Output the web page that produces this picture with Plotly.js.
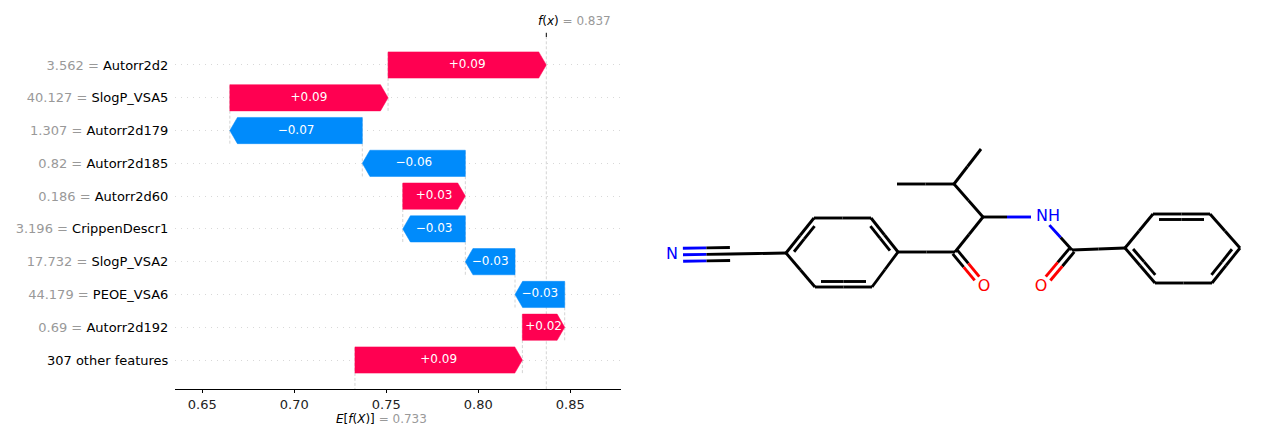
<!DOCTYPE html>
<html>
<head>
<meta charset="utf-8">
<script src="https://cdn.plot.ly/plotly-3.0.1.min.js"></script>
<style>
  html, body { margin: 0; padding: 0; background: #fff; }
  #chart { width: 1270px; height: 441px; }
</style>
</head>
<body>
<div id="chart"></div>
<script>
// waterfall rows, listed top to bottom
var features = ['Autorr2d2', 'SlogP_VSA5', 'Autorr2d179', 'Autorr2d185', 'Autorr2d60',
                'CrippenDescr1', 'SlogP_VSA2', 'PEOE_VSA6', 'Autorr2d192', '307 other features'];
var featureValues = ['3.562', '40.127', '1.307', '0.82', '0.186', '3.196', '17.732', '44.179', '0.69', ''];
var shapValues = [0.086, 0.086, -0.072, -0.056, 0.034, -0.034, -0.027, -0.027, 0.023, 0.091];
var baseValue = 0.733;
var xTicks = [0.65, 0.70, 0.75, 0.80, 0.85];
var xTickLabels = ['0.65', '0.70', '0.75', '0.80', '0.85'];

// molecule: atom positions in image pixels, bonds as [from, to, order]
var atomSymbols = ['N', 'C', 'C', 'C', 'C', 'C', 'C', 'C', 'C', 'O', 'C', 'C',
                   'C', 'C', 'N', 'C', 'O', 'C', 'C', 'C', 'C', 'C', 'C'];
var atomLabels  = ['N', '', '', '', '', '', '', '', '', 'O', '', '',
                   '', '', 'NH', '', 'O', '', '', '', '', '', ''];
var atomX = [672, 730, 786, 814, 871, 898, 872, 815, 955, 984, 983, 954,
             897, 981, 1042, 1072, 1041, 1125, 1153, 1210, 1240, 1212, 1155];
var atomY = [255, 254, 253, 218, 218, 252, 287, 287, 252, 287, 217, 184,
             184, 149, 217, 250, 287, 248, 214, 214, 248, 283, 283];
var bonds = [[0, 1, 3], [1, 2, 1],
             [2, 3, 2], [3, 4, 1], [4, 5, 2], [5, 6, 1], [6, 7, 2], [7, 2, 1],
             [5, 8, 1], [8, 9, 2], [8, 10, 1], [10, 11, 1], [11, 12, 1], [11, 13, 1],
             [10, 14, 1], [14, 15, 1], [15, 16, 2], [15, 17, 1],
             [17, 18, 1], [18, 19, 2], [19, 20, 1], [20, 21, 2], [21, 22, 1], [22, 17, 2]];
var rings = [[2, 3, 4, 5, 6, 7], [17, 18, 19, 20, 21, 22]];

var RED = '#ff0051', BLUE = '#008bfb';
var FONT = 'DejaVu Sans, Verdana, sans-serif';
var xRange = [0.6352, 0.8776];
var yRange = [-0.894, 9.854];

// ---- waterfall geometry ----
var n = features.length;
var rows = [], starts = [], ends = [];
var cum = baseValue;
for (var i = n - 1; i >= 0; i--) {
  rows[i] = n - 1 - i;
  starts[i] = cum;
  ends[i] = cum + shapValues[i];
  cum = ends[i];
}
var fx = cum;

var traces = [];

// dashed connectors between bars
var cx = [], cy = [];
for (var i = 0; i < n; i++) {
  cx.push(starts[i], starts[i], null);
  cy.push(rows[i] - 1.4, rows[i] + 0.4, null);
}
traces.push({
  x: cx, y: cy, mode: 'lines', type: 'scatter', hoverinfo: 'skip', showlegend: false,
  line: {color: '#d4d4d4', width: 1, dash: '3px,2px'}
});

// arrow shaped bars
var hh = 0.4;
var hl = (xRange[1] - xRange[0]) * 0.017;
for (var i = 0; i < n; i++) {
  var s = starts[i], e = ends[i], y = rows[i];
  var d = e >= s ? 1 : -1;
  var neck = e - d * Math.min(hl, Math.abs(e - s));
  var col = shapValues[i] >= 0 ? RED : BLUE;
  traces.push({
    x: [s, neck, e, neck, s, s],
    y: [y - hh, y - hh, y, y + hh, y + hh, y - hh],
    mode: 'lines', fill: 'toself', fillcolor: col, type: 'scatter',
    line: {color: col, width: 0.5}, hoverinfo: 'skip', showlegend: false
  });
}

// value labels inside the bars
var tx = [], ty = [], tt = [];
for (var i = 0; i < n; i++) {
  tx.push((starts[i] + ends[i]) / 2);
  ty.push(rows[i]);
  tt.push((shapValues[i] >= 0 ? '+' : '\u2212') + Math.abs(shapValues[i]).toFixed(2));
}
traces.push({
  x: tx, y: ty, text: tt, mode: 'text', type: 'scatter', textposition: 'middle center',
  textfont: {color: '#fff', size: 12, family: FONT}, hoverinfo: 'skip', showlegend: false,
  cliponaxis: false
});

// ---- molecule ----
var atomColors = {C: '#000000', N: '#0000ff', O: '#ff0000'};
var segs = {};
function addLine(x1, y1, x2, y2, c1, c2) {
  var mx = (x1 + x2) / 2, my = (y1 + y2) / 2;
  [[x1, y1, mx, my, c1], [mx, my, x2, y2, c2]].forEach(function (p) {
    if (!segs[p[4]]) segs[p[4]] = {x: [], y: []};
    segs[p[4]].x.push(p[0], p[2], null);
    segs[p[4]].y.push(p[1], p[3], null);
  });
}
function gap(a) {
  return atomLabels[a] ? 11 : 0;
}
function ringOf(a, b) {
  for (var r = 0; r < rings.length; r++) {
    if (rings[r].indexOf(a) >= 0 && rings[r].indexOf(b) >= 0) return rings[r];
  }
  return null;
}
bonds.forEach(function (bd) {
  var a = bd[0], b = bd[1], order = bd[2];
  var ax = atomX[a], ay = atomY[a], bx = atomX[b], by = atomY[b];
  var L = Math.hypot(bx - ax, by - ay);
  var ux = (bx - ax) / L, uy = (by - ay) / L;
  var nx = -uy, ny = ux;
  var x1 = ax + ux * gap(a), y1 = ay + uy * gap(a);
  var x2 = bx - ux * gap(b), y2 = by - uy * gap(b);
  var c1 = atomColors[atomSymbols[a]], c2 = atomColors[atomSymbols[b]];
  var ring = ringOf(a, b);
  if (order === 1) {
    addLine(x1, y1, x2, y2, c1, c2);
  } else if (order === 2 && ring) {
    addLine(x1, y1, x2, y2, c1, c2);
    var rcx = 0, rcy = 0;
    ring.forEach(function (k) { rcx += atomX[k] / ring.length; rcy += atomY[k] / ring.length; });
    var sgn = ((rcx - (ax + bx) / 2) * nx + (rcy - (ay + by) / 2) * ny) > 0 ? 1 : -1;
    var off = 5.5 * sgn, ins = 6;
    addLine(x1 + nx * off + ux * ins, y1 + ny * off + uy * ins,
            x2 + nx * off - ux * ins, y2 + ny * off - uy * ins, c1, c2);
  } else if (order === 2) {
    addLine(x1 + nx * 3, y1 + ny * 3, x2 + nx * 3, y2 + ny * 3, c1, c2);
    addLine(x1 - nx * 3, y1 - ny * 3, x2 - nx * 3, y2 - ny * 3, c1, c2);
  } else {
    addLine(x1, y1, x2, y2, c1, c2);
    addLine(x1 + nx * 6.5, y1 + ny * 6.5, x2 + nx * 6.5, y2 + ny * 6.5, c1, c2);
    addLine(x1 - nx * 6.5, y1 - ny * 6.5, x2 - nx * 6.5, y2 - ny * 6.5, c1, c2);
  }
});
Object.keys(segs).forEach(function (c) {
  traces.push({
    x: segs[c].x, y: segs[c].y, xaxis: 'x2', yaxis: 'y2', mode: 'lines', type: 'scatter',
    line: {color: c, width: 2.9}, hoverinfo: 'skip', showlegend: false
  });
});
var lx = [], ly = [], lt = [], lc = [];
for (var k = 0; k < atomLabels.length; k++) {
  if (!atomLabels[k]) continue;
  lx.push(atomX[k] + (atomLabels[k].length > 1 ? 6 : 0));
  ly.push(atomY[k]);
  lt.push(atomLabels[k]);
  lc.push(atomColors[atomSymbols[k]]);
}
traces.push({
  x: lx, y: ly, text: lt, xaxis: 'x2', yaxis: 'y2', mode: 'text', type: 'scatter',
  textposition: 'middle center', textfont: {color: lc, size: 16, family: FONT},
  hoverinfo: 'skip', showlegend: false, cliponaxis: false
});

// y tick labels: grey feature value, black feature name
var tickText = features.map(function (f, i) {
  return featureValues[i]
    ? '<span style="color:#999999">' + featureValues[i] + ' = </span>' + f
    : f;
});

var layout = {
  width: 1270, height: 441,
  margin: {l: 0, r: 0, t: 0, b: 0},
  paper_bgcolor: '#fff', plot_bgcolor: '#fff',
  font: {family: FONT, color: '#000'},
  xaxis: {
    domain: [175 / 1270, 621 / 1270], range: xRange,
    tickvals: xTicks, ticktext: xTickLabels,
    showline: true, linecolor: '#000', linewidth: 1,
    ticks: 'outside', ticklen: 3, tickcolor: '#000', tickwidth: 1,
    tickfont: {size: 13, color: '#222'},
    showgrid: false, zeroline: false, fixedrange: true
  },
  yaxis: {
    domain: [1 - 389.3 / 441, 1 - 37 / 441], range: yRange,
    tickvals: rows, ticktext: tickText,
    ticks: 'outside', ticklen: 3, tickcolor: 'rgba(0,0,0,0)',
    tickfont: {size: 13, color: '#000'},
    showgrid: true, gridcolor: '#d8d8d8', gridwidth: 1, griddash: '1px,5px',
    showline: false, zeroline: false, fixedrange: true
  },
  xaxis2: {domain: [635 / 1270, 1], range: [635, 1270], visible: false, fixedrange: true},
  yaxis2: {domain: [0, 1], range: [441, 0], visible: false, fixedrange: true, anchor: 'x2'},
  shapes: [
    {type: 'line', xref: 'x', yref: 'y domain', x0: fx, x1: fx, y0: 0, y1: 1,
     line: {color: '#d4d4d4', width: 1, dash: '3px,2px'}, layer: 'below'},
    {type: 'line', xref: 'x', yref: 'y domain', x0: fx, x1: fx, y0: 1, y1: 1.012,
     line: {color: '#000', width: 1}}
  ],
  annotations: [
    {xref: 'x', yref: 'paper', x: fx, y: 1 - 21 / 441, xanchor: 'left', yanchor: 'middle',
     xshift: -10, showarrow: false, font: {size: 12, color: '#000'},
     text: '<i>f</i>(<i>x</i>)<span style="color:#999999"> = ' + fx.toFixed(3) + '</span>'},
    {xref: 'x', yref: 'paper', x: baseValue, y: 1 - 419 / 441, xanchor: 'left', yanchor: 'middle',
     xshift: -21, showarrow: false, font: {size: 12, color: '#000'},
     text: '<i>E</i>[<i>f</i>(<i>X</i>)]<span style="color:#999999"> = ' + baseValue.toFixed(3) + '</span>'}
  ]
};

Plotly.newPlot('chart', traces, layout, {displayModeBar: false, staticPlot: true});
</script>
</body>
</html>
